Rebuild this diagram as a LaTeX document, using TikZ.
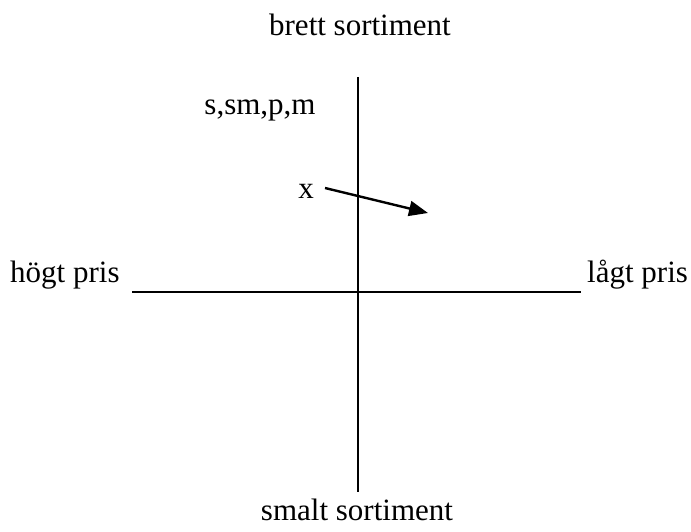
\documentclass[tikz,border=0pt]{standalone}
\usepackage{fontspec}
\setmainfont{Liberation Serif}
\usetikzlibrary{arrows.meta}
\begin{document}
\begin{tikzpicture}[x=1pt,y=-1pt,
  lbl/.style={inner sep=0pt,font=\fontsize{31}{36}\selectfont},
  axis/.style={line width=2pt},
  arr/.style={line width=2.4pt,-{Triangle[length=19pt,width=15pt]}}]
\useasboundingbox (0,0) rectangle (691,532);
\coordinate (vt) at (358,77);
\coordinate (vb) at (358,492);
\coordinate (hl) at (132,292);
\coordinate (hr) at (581,292);
\draw[axis] (vt) -- (vb);
\draw[axis] (hl) -- (hr);
\node[lbl,anchor=base] (brett) at (360,36) {brett sortiment};
\node[lbl,anchor=base] (smalt) at (357,520) {smalt sortiment};
\node[lbl,anchor=base west] (hogt) at (10,282) {högt pris};
\node[lbl,anchor=base west] (lagt) at (587,282) {lågt pris};
\node[lbl,anchor=base] (ssm) at (260,115) {s,sm,p,m};
\node[lbl,anchor=base] (xx) at (306,198) {x};
\coordinate (as) at (325,188);
\coordinate (ae) at (428,213);
\draw[arr] (as) -- (ae);
\end{tikzpicture}
\end{document}
